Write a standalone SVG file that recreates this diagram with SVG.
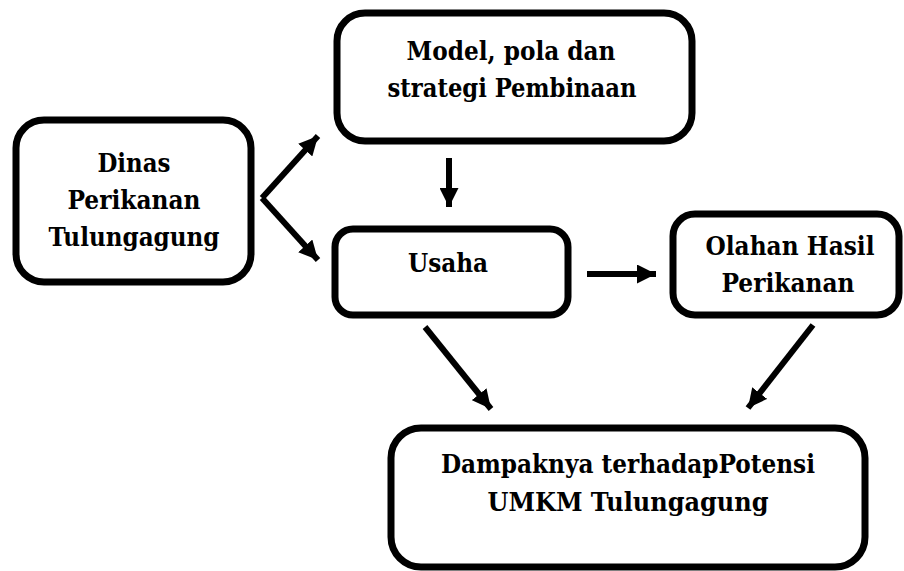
<svg xmlns="http://www.w3.org/2000/svg" width="904" height="571" viewBox="0 0 904 571">
<defs>
<style>
.box{fill:#fff;stroke:#000;stroke-width:7}
.t{font-family:'DejaVu Serif Condensed','DejaVu Serif',serif;font-stretch:condensed;font-weight:bold;font-size:26px;fill:#000;text-anchor:middle}
.c{stroke:#000;stroke-width:6;fill:none;marker-end:url(#ah)}
</style>
<marker id="ah" viewBox="0 0 20 20" refX="20" refY="10" markerWidth="19" markerHeight="19" markerUnits="userSpaceOnUse" orient="auto">
<path d="M0,0 L20,10 L0,20 Z" fill="#000"/>
</marker>
</defs>
<rect width="904" height="571" fill="#fff"/>
<g id="dinas">
<rect class="box" x="16" y="120" width="235" height="162" rx="28"/>
<text class="t" x="134" y="172" textLength="73" lengthAdjust="spacingAndGlyphs">Dinas</text>
<text class="t" x="134" y="209" textLength="133" lengthAdjust="spacingAndGlyphs">Perikanan</text>
<text class="t" x="134" y="246" textLength="171" lengthAdjust="spacingAndGlyphs">Tulungagung</text>
</g>
<g id="model">
<rect class="box" x="337" y="13" width="355" height="128" rx="28"/>
<text class="t" x="511" y="60" textLength="209" lengthAdjust="spacingAndGlyphs">Model, pola dan</text>
<text class="t" x="512" y="97" textLength="249" lengthAdjust="spacingAndGlyphs">strategi Pembinaan</text>
</g>
<g id="usaha">
<rect class="box" x="335" y="229" width="233" height="86" rx="18"/>
<text class="t" x="448" y="272" textLength="80" lengthAdjust="spacingAndGlyphs">Usaha</text>
</g>
<g id="olahan">
<rect class="box" x="673" y="214" width="226" height="101" rx="22"/>
<text class="t" x="790" y="255" textLength="169" lengthAdjust="spacingAndGlyphs">Olahan Hasil</text>
<text class="t" x="788" y="292" textLength="133" lengthAdjust="spacingAndGlyphs">Perikanan</text>
</g>
<g id="dampak">
<rect class="box" x="391" y="428" width="474" height="139" rx="30"/>
<text class="t" x="628" y="473" textLength="374" lengthAdjust="spacingAndGlyphs">Dampaknya terhadapPotensi</text>
<text class="t" x="628" y="511" textLength="281" lengthAdjust="spacingAndGlyphs">UMKM Tulungagung</text>
</g>
<g id="connectors">
<path class="c" d="M262,198 L318,136"/>
<path class="c" d="M262,198 L318,260"/>
<path class="c" d="M449,158 L449,207"/>
<path class="c" d="M587,274 L656,274"/>
<path class="c" d="M425,327 L491,409"/>
<path class="c" d="M813,325 L748,408"/>
</g>
</svg>
